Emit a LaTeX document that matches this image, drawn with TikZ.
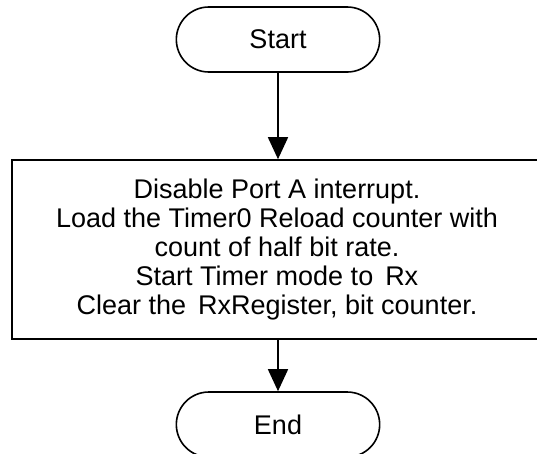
\documentclass[tikz,border=0pt]{standalone}
\usepackage{fontspec}
\setmainfont{Liberation Sans}
\usetikzlibrary{shapes.misc,arrows.meta}
\tikzset{
    every node/.style={font=\fontsize{27}{29.2}\selectfont, align=center,
    	line width=1.6pt}
}
\tikzset{
    terminal/.style={draw, rounded rectangle, minimum width=210pt,
    	minimum height=65pt}
}
\tikzset{
    procbox/.style={draw, rectangle, minimum width=530pt, minimum height=179pt}
}
\tikzset{
    every edge/.append style={line width=1.6pt,
    	-{Triangle[length=22pt,width=20pt]}}
}

\begin{document}
\begin{tikzpicture}
	\useasboundingbox (0pt, 0pt) rectangle (537pt, -453pt);
	\node (start) [terminal] at (278pt, -39.5pt) {Start};
	\node (init) [procbox] at (277pt, -249.5pt) {Disable Port A interrupt.\\
		Load the Timer0 Reload counter with\\
		count of half bit rate.\\
		Start Timer mode to \,Rx\\
		Clear the \,RxRegister, bit counter.};
	\node (end) [terminal] at (278pt, -424.5pt) {End};
	
	\draw (start) edge (start |- init.north);
	\draw (init.south -| end) edge (end);
\end{tikzpicture}
\end{document}
